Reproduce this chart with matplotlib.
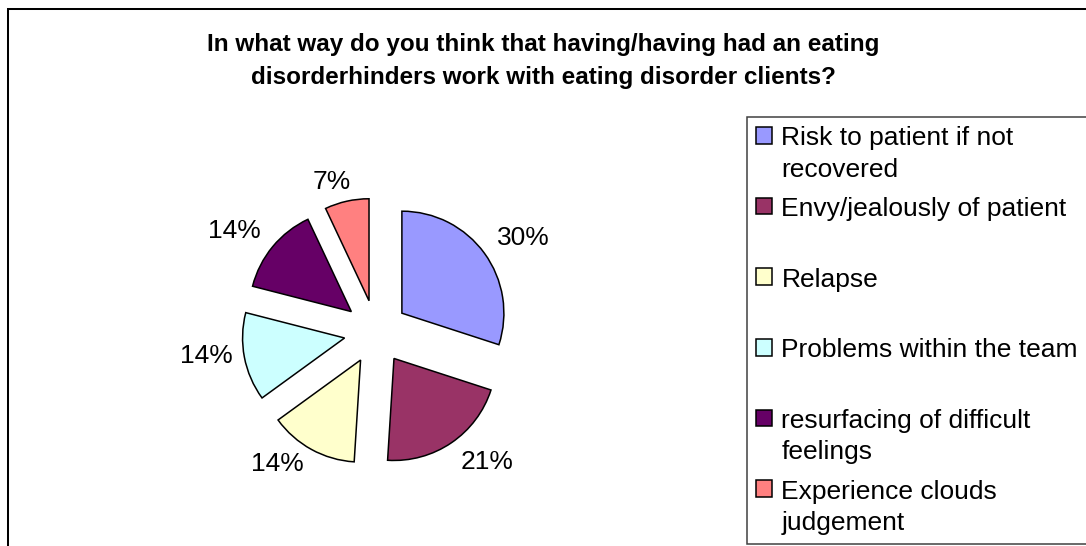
import numpy as np
import matplotlib
matplotlib.use("Agg")
import matplotlib.pyplot as plt
from matplotlib.patches import Rectangle, Wedge
from matplotlib.legend_handler import HandlerPatch

plt.rcParams['font.family'] = ['Liberation Sans', 'DejaVu Sans']

# ---- data ----
title = ("In what way do you think that having/having had an eating\n"
         "disorderhinders work with eating disorder clients?")
categories = ["Risk to patient if not recovered", "Envy/jealously of patient",
              "Relapse", "Problems within the team",
              "resurfacing of difficult feelings", "Experience clouds judgement"]
legend_labels = ["Risk to patient if not\nrecovered", "Envy/jealously of patient\n",
                 "Relapse\n", "Problems within the team\n",
                 "resurfacing of difficult\nfeelings", "Experience clouds\njudgement"]
percentages = [30, 21, 14, 14, 14, 7]
colors = ["#9999FF", "#993366", "#FFFFCC", "#CCFFFF", "#660066", "#FF8080"]

# ---- style: label placement (radius units, angle nudges in degrees) ----
label_dist = [1.745, 1.71, 1.65, 1.71, 1.74, 1.565]
label_nudge = [-3.4, 6.3, -8.1, -2.7, 4.2, 3.9]
marker_shift = 13.5  # points

W, H = 1086, 546
fig = plt.figure(figsize=(W / 100, H / 100), dpi=100)

# outer chart frame (extends past right / bottom edges)
fig.add_artist(Rectangle((8 / W, -0.2), 1.5, (H - 9) / H + 0.2,
                         transform=fig.transFigure, fill=False,
                         edgecolor='black', linewidth=1.45))

fig.text(0.5, 1 - 33 / H, title, ha='center', va='top', fontsize=17.5,
         fontweight='bold', linespacing=1.56)

ax = fig.add_axes([176 / W, 14 / H, 400 / W, 400 / H])
wedges, _ = ax.pie(percentages, colors=colors, startangle=90, counterclock=False,
                   explode=[0.32] * len(percentages), radius=1.02,
                   wedgeprops=dict(edgecolor='black', linewidth=1.1))
ax.set_xlim(-2, 2)
ax.set_ylim(-2, 2)
ax.set_aspect('equal')
ax.axis('off')

for w, v, d, nd in zip(wedges, percentages, label_dist, label_nudge):
    mid = np.deg2rad((w.theta1 + w.theta2) / 2 + nd)
    ax.text(d * np.cos(mid), d * np.sin(mid), f"{v:.0f}%", ha='center',
            va='center', fontsize=19)


def shifted_patch(legend, orig_handle, xdescent, ydescent, width, height, fontsize):
    return Rectangle((-xdescent, -ydescent + marker_shift), width, height)


leg = fig.legend(wedges, legend_labels, loc='upper left',
                 bbox_to_anchor=(747 / W, 0, 0.4, 1 - 117 / H), mode='expand',
                 borderaxespad=0, fontsize=19, handlelength=0.59,
                 handleheight=0.59, handletextpad=0.36, borderpad=0.355,
                 labelspacing=0.58, frameon=True, fancybox=False,
                 edgecolor='#404040', framealpha=1,
                 handler_map={Wedge: HandlerPatch(patch_func=shifted_patch)})
leg.get_frame().set_linewidth(1.1)
for t in leg.get_texts():
    t.set_linespacing(1.386)

fig.savefig("out.png", dpi=100)
